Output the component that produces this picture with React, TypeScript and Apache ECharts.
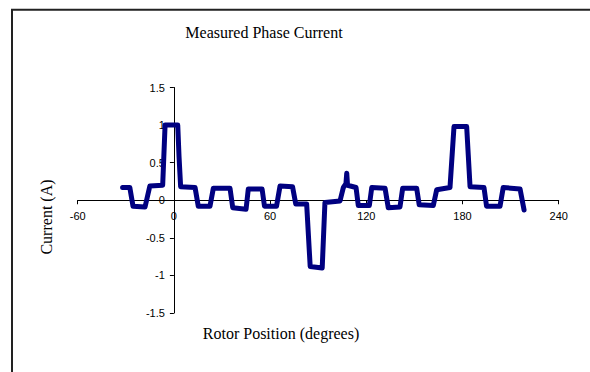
import React, { useEffect, useRef } from "react";
import * as echarts from "echarts";

// Rotor position (degrees) and measured phase current (A)
const rotorPosition = [
  -32, -27.5, -25.5, -18, -15, -7, -5.5, 2.4, 3.2, 4.2,
  13.2, 15.2, 22.5, 24.6, 35, 36.7, 45, 46.4, 55, 56.5,
  64, 66.2, 74, 76, 82.8, 85, 92.5, 94.2, 103.6, 105.7,
  107.3, 107.8, 108.3, 113.6, 115, 121.9, 123.4, 131.7, 133.7, 141,
  142.7, 151.4, 153, 161.8, 163.9, 172.2, 174.7, 182.6, 183.6, 184.7,
  193.4, 195, 203.4, 205.4, 215.9, 218.4,
];
const phaseCurrent = [
  0.17, 0.17, -0.08, -0.09, 0.19, 0.2, 1.0, 1.0, 0.58, 0.18,
  0.17, -0.08, -0.08, 0.16, 0.16, -0.1, -0.12, 0.15, 0.15, -0.08,
  -0.08, 0.19, 0.18, -0.05, -0.05, -0.88, -0.9, -0.03, -0.01, 0.17,
  0.22, 0.36, 0.2, 0.17, -0.07, -0.07, 0.17, 0.16, -0.1, -0.09,
  0.16, 0.16, -0.06, -0.07, 0.14, 0.17, 0.98, 0.98, 0.6, 0.18,
  0.17, -0.08, -0.08, 0.17, 0.15, -0.13,
];

const xTicks = { min: -60, max: 240, interval: 60 };
const yTicks = { min: -1.5, max: 1.5, interval: 0.5 };

const titleText = "Measured Phase Current";
const xAxisTitle = "Rotor Position (degrees)";
const yAxisTitle = "Current (A)";

export default function App() {
  const ref = useRef<HTMLDivElement>(null);
  useEffect(() => {
    document.body.style.margin = "0";
    const chart = echarts.init(ref.current!, null, { renderer: "svg" });
    const serif = "'Liberation Serif', 'Times New Roman', serif";
    const sans = "'Liberation Sans', Arial, sans-serif";
    const gridLeft = 77.7;
    const gridRight = 31.3;
    const gridTop = 87.5;
    const gridBottom = 59;
    const plotW = 590 - gridLeft - gridRight;
    const plotH = 372 - gridTop - gridBottom;
    // place each axis where the other axis is zero (labels follow the offset)
    const xAxisOffset = -plotH * (0 - yTicks.min) / (yTicks.max - yTicks.min);
    const yAxisOffset = -plotW * (0 - xTicks.min) / (xTicks.max - xTicks.min);
    chart.setOption({
      animation: false,
      backgroundColor: "#ffffff",
      grid: {
        left: gridLeft,
        right: gridRight,
        top: gridTop,
        bottom: gridBottom,
        containLabel: false,
        outerBoundsMode: "none",
      },
      xAxis: {
        type: "value",
        position: "bottom",
        offset: xAxisOffset,
        min: xTicks.min,
        max: xTicks.max,
        interval: xTicks.interval,
        axisLine: { onZero: false, lineStyle: { color: "#000", width: 1 } },
        axisTick: { show: true, length: 4, lineStyle: { color: "#000" } },
        axisLabel: { color: "#000", fontSize: 11, fontFamily: sans, margin: 10 },
        splitLine: { show: false },
      },
      yAxis: {
        type: "value",
        position: "left",
        offset: yAxisOffset,
        min: yTicks.min,
        max: yTicks.max,
        interval: yTicks.interval,
        axisLine: { show: true, onZero: false, lineStyle: { color: "#000", width: 1 } },
        axisTick: { show: true, length: 4, lineStyle: { color: "#000" } },
        axisLabel: { color: "#000", fontSize: 11, fontFamily: sans, margin: 9 },
        splitLine: { show: false },
      },
      graphic: [
        {
          type: "rect",
          shape: { x: 12, y: 9.7, width: 700, height: 500 },
          style: { fill: "none", stroke: "#222", lineWidth: 2 },
          silent: true,
        },
        {
          type: "text",
          x: 264,
          y: 32,
          style: {
            text: titleText,
            fontFamily: serif,
            fontSize: 16,
            fill: "#000",
            textAlign: "center",
            textVerticalAlign: "middle",
          },
        },
        {
          type: "text",
          x: 281,
          y: 333,
          style: {
            text: xAxisTitle,
            fontFamily: serif,
            fontSize: 16,
            fill: "#000",
            textAlign: "center",
            textVerticalAlign: "middle",
          },
        },
        {
          type: "text",
          x: 46,
          y: 217,
          rotation: Math.PI / 2,
          style: {
            text: yAxisTitle,
            fontFamily: serif,
            fontSize: 16,
            fill: "#000",
            textAlign: "center",
            textVerticalAlign: "middle",
          },
        },
      ],
      series: [
        {
          type: "line",
          data: rotorPosition.map((x, i) => [x, phaseCurrent[i]]),
          showSymbol: false,
          symbol: "none",
          lineStyle: { color: "#000080", width: 5, join: "round", cap: "round" },
        },
      ],
    });
    return () => chart.dispose();
  }, []);
  return (
    <div
      ref={ref}
      style={{ position: "absolute", left: 0, top: 0, width: 590, height: 372 }}
    />
  );
}
